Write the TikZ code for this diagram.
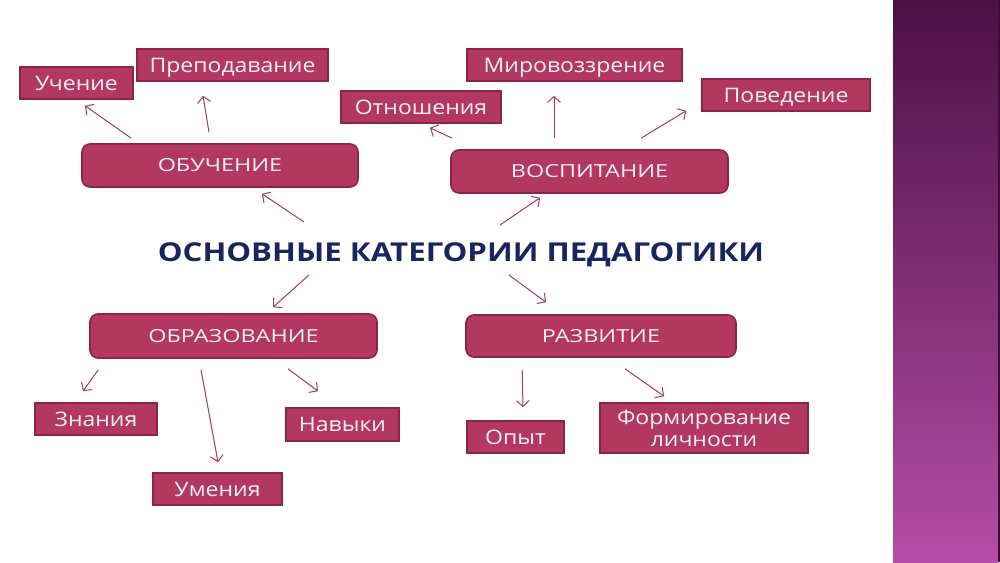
\documentclass[tikz,border=0pt]{standalone}
\usepackage{fontspec}
\setmainfont{Open Sans}
\newfontfamily\widesmall[FakeStretch=1.15]{Open Sans}
\newfontfamily\widecaps[FakeStretch=1.3]{Open Sans}
\newfontfamily\widetitle[FakeStretch=1.2]{Open Sans}
\usetikzlibrary{arrows.meta,calc}
\definecolor{boxfill}{HTML}{B3385F}
\definecolor{boxline}{HTML}{8A2549}
\definecolor{boxtext}{HTML}{FAF0F4}
\definecolor{arrowcol}{HTML}{A8385C}
\definecolor{titlecol}{HTML}{1A2560}
\definecolor{stripTop}{HTML}{4C1045}
\definecolor{stripBot}{HTML}{B44DA6}
\tikzset{
  smallbox/.style={draw=boxline, line width=1.6pt, fill=boxfill, text=boxtext, inner sep=0pt, font=\widesmall\fontsize{20}{22}\selectfont, text height=14.3pt, text depth=0pt},
  bigbox/.style={smallbox, rounded corners=8pt, font=\widecaps\fontsize{18}{20}\selectfont, text height=12.9pt},
  arr/.style={draw=arrowcol, line width=1pt, -{Straight Barb[length=6pt,width=13pt]}},
}
\begin{document}
\begin{tikzpicture}[x=1pt,y=-1pt]
\useasboundingbox (0,0) rectangle (1000,562);
\fill[white] (0,0) rectangle (1000,562);
\shade[top color=stripTop, bottom color=stripBot] (893,0) rectangle (998,562);
\fill[stripTop!80!black] (998,0) rectangle (1000,562);

\node[smallbox, minimum width=113pt, minimum height=32pt] (uch) at (76.5,83) {Учение};
\node[smallbox, minimum width=191pt, minimum height=32pt] (prep) at (232.5,65) {Преподавание};
\node[bigbox, minimum width=276pt, minimum height=43pt] (obuch) at (220,165.5) {ОБУЧЕНИЕ};
\node[smallbox, minimum width=160pt, minimum height=32pt] (otn) at (421,107) {Отношения};
\node[smallbox, minimum width=215pt, minimum height=32pt] (mir) at (574.5,65) {Мировоззрение};
\node[smallbox, minimum width=168pt, minimum height=32pt] (pov) at (786,95) {Поведение};
\node[bigbox, minimum width=277pt, minimum height=43pt] (vosp) at (589.5,171.5) {ВОСПИТАНИЕ};

\node[text=titlecol, inner sep=0pt, text height=18.6pt, text depth=0pt, font=\widetitle\fontsize{26}{30}\bfseries\selectfont] (title) at (461,252) {ОСНОВНЫЕ КАТЕГОРИИ ПЕДАГОГИКИ};

\node[bigbox, minimum width=287pt, minimum height=44pt] (obr) at (233.5,336) {ОБРАЗОВАНИЕ};
\node[smallbox, minimum width=122pt, minimum height=32pt] (zn) at (96,419) {Знания};
\node[smallbox, minimum width=129pt, minimum height=32pt] (um) at (217.5,489) {Умения};
\node[smallbox, minimum width=113pt, minimum height=33pt] (nav) at (342.5,424.5) {Навыки};
\node[bigbox, minimum width=270pt, minimum height=42pt] (razv) at (601,336) {РАЗВИТИЕ};
\node[smallbox, minimum width=97pt, minimum height=32pt] (opyt) at (515.5,437) {Опыт};
\node[smallbox, minimum width=208pt, minimum height=50pt, align=center, text height=36pt, text depth=0pt] (form) at (704,428) {Формирование\\личности};

\draw[arr] ($(obuch.north west)+(50,-5)$) -- ($(uch.south)+(8.5,6)$);
\draw[arr] ($(obuch.north)+(-11,-11)$) -- ($(prep.south)+(-29.5,14)$);
\draw[arr] ($(vosp.north west)+(2,-11)$) -- ($(otn.south)+(9,4)$);
\draw[arr] ($(vosp.north)+(-35.5,-11)$) -- ($(mir.south)+(-20.5,14)$);
\draw[arr] ($(vosp.north)+(51.5,-11)$) -- ($(pov.south west)+(-15,-1)$);
\draw[arr] ($(title.center)+(-157,-30)$) -- ($(obuch.south)+(42,6)$);
\draw[arr] ($(title.center)+(39,-27)$) -- ($(vosp.south)+(-49.5,4)$);
\draw[arr] ($(title.center)+(-152,23)$) -- ($(obr.north)+(39.5,-6)$);
\draw[arr] ($(title.center)+(48,23)$) -- ($(razv.north)+(-55,-12)$);
\draw[arr] ($(obr.south west)+(9,11)$) -- ($(zn.north)+(-13,-11)$);
\draw[arr] ($(obr.south)+(-32.5,11)$) -- ($(um.north)+(0.5,-10)$);
\draw[arr] ($(obr.south)+(54.5,10)$) -- ($(nav.north)+(-24.5,-16)$);
\draw[arr] ($(razv.south west)+(57,12)$) -- ($(opyt.north)+(7.5,-13)$);
\draw[arr] ($(razv.south)+(24,11)$) -- ($(form.north)+(-40,-6)$);
\end{tikzpicture}
\end{document}
